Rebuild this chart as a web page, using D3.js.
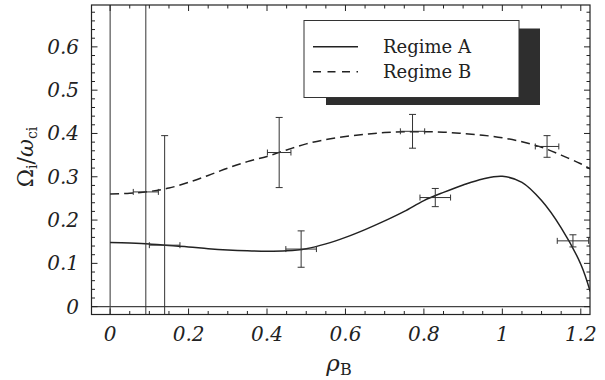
<!DOCTYPE html>
<html><head><meta charset="utf-8">
<script src="https://cdn.jsdelivr.net/npm/d3@7"></script>
<style>body{margin:0;background:#fff}svg{display:block}</style>
</head><body>
<svg id="c" width="605" height="380"></svg>
<script>
// ---- data ----
const rhoGrid = [0, 0.05, 0.1, 0.15, 0.2, 0.25, 0.3, 0.35, 0.4, 0.45, 0.5, 0.55, 0.6, 0.65, 0.7, 0.75, 0.8, 0.85, 0.9, 0.95, 1.0, 1.05, 1.1, 1.15, 1.2, 1.224];
const regimeA = [0.148, 0.147, 0.145, 0.141, 0.138, 0.134, 0.131, 0.129, 0.128, 0.129, 0.134, 0.145, 0.160, 0.178, 0.198, 0.220, 0.245, 0.264, 0.281, 0.295, 0.301, 0.287, 0.245, 0.182, 0.098, 0.035];
const regimeB = [0.260, 0.262, 0.266, 0.274, 0.287, 0.303, 0.320, 0.335, 0.347, 0.362, 0.376, 0.386, 0.393, 0.398, 0.402, 0.404, 0.404, 0.403, 0.400, 0.396, 0.390, 0.381, 0.368, 0.350, 0.330, 0.318];
const ptsAx = [0.139, 0.487, 0.829, 1.180];
const ptsAy = [0.142, 0.133, 0.252, 0.152];
const ptsAxErr = [0.039, 0.039, 0.039, 0.040];
const ptsAyErr = [0.253, 0.042, 0.021, 0.014];
const ptsBx = [0.091, 0.431, 0.771, 1.114];
const ptsBy = [0.265, 0.356, 0.405, 0.370];
const ptsBxErr = [0.032, 0.030, 0.031, 0.030];
const ptsByErr = [1.0, 0.081, 0.039, 0.025];
const xTicks = [0, 0.2, 0.4, 0.6, 0.8, 1, 1.2];
const xTickLabels = ["0", "0.2", "0.4", "0.6", "0.8", "1", "1.2"];
const yTicks = [0, 0.1, 0.2, 0.3, 0.4, 0.5, 0.6];
const yTickLabels = ["0", "0.1", "0.2", "0.3", "0.4", "0.5", "0.6"];
const legendLabels = ["Regime A", "Regime B"];

// ---- layout ----
const L = 91.5, R = 590, T = 5, B = 314.5;
const x = d3.scaleLinear().domain([-0.0475, 1.2235]).range([L, R]);
const y = d3.scaleLinear().domain([-0.0181, 0.6967]).range([B, T]);
const svg = d3.select("#c");
const ink = "#222";
const serif = "DejaVu Serif";

svg.append("defs").append("clipPath").attr("id", "clip")
  .append("rect").attr("x", L).attr("y", T).attr("width", R - L).attr("height", B - T);
const plot = svg.append("g").attr("clip-path", "url(#clip)");

plot.append("line").attr("x1", x(0)).attr("x2", x(0)).attr("y1", T).attr("y2", B)
  .attr("stroke", "#444").attr("stroke-width", 1.1);
plot.append("line").attr("x1", L).attr("x2", R).attr("y1", y(0)).attr("y2", y(0))
  .attr("stroke", "#444").attr("stroke-width", 1.1);

const line = d3.line().x(d => x(d[0])).y(d => y(d[1])).curve(d3.curveCatmullRom.alpha(0.5));
plot.append("path").datum(rhoGrid.map((r, i) => [r, regimeA[i]]))
  .attr("d", line).attr("fill", "none").attr("stroke", ink).attr("stroke-width", 1.5);
plot.append("path").datum(rhoGrid.map((r, i) => [r, regimeB[i]]))
  .attr("d", line).attr("fill", "none").attr("stroke", ink).attr("stroke-width", 1.5)
  .attr("stroke-dasharray", "9,5");

function errbars(xs, ys, xe, ye) {
  const g = plot.append("g").attr("stroke", "#333").attr("stroke-width", 1).attr("fill", "none");
  xs.forEach((xv, i) => {
    const cx = x(xv), cy = y(ys[i]);
    const y1 = y(ys[i] + ye[i]), y2 = y(ys[i] - ye[i]);
    const x1 = x(xv - xe[i]), x2 = x(xv + xe[i]);
    g.append("line").attr("x1", cx).attr("x2", cx).attr("y1", y1).attr("y2", y2);
    g.append("line").attr("x1", cx - 3.5).attr("x2", cx + 3.5).attr("y1", y1).attr("y2", y1);
    g.append("line").attr("x1", cx - 3.5).attr("x2", cx + 3.5).attr("y1", y2).attr("y2", y2);
    g.append("line").attr("x1", x1).attr("x2", x2).attr("y1", cy).attr("y2", cy);
    g.append("line").attr("x1", x1).attr("x2", x1).attr("y1", cy - 3).attr("y2", cy + 3);
    g.append("line").attr("x1", x2).attr("x2", x2).attr("y1", cy - 3).attr("y2", cy + 3);
  });
}
errbars(ptsAx, ptsAy, ptsAxErr, ptsAyErr);
errbars(ptsBx, ptsBy, ptsBxErr, ptsByErr);

const xMinor = d3.range(-0.05, 1.2251, 0.05).filter(v => v >= -0.0475 && v <= 1.2235);
const yMinor = d3.range(0, 0.7, 0.02).filter(v => v <= 0.6967);
const fr = svg.append("g").attr("stroke", ink).attr("stroke-width", 1);
const isMajor = (v, step) => Math.abs(v / step - Math.round(v / step)) < 1e-6;
xMinor.forEach(v => {
  const len = isMajor(v, 0.2) ? 6 : 3.5;
  fr.append("line").attr("x1", x(v)).attr("x2", x(v)).attr("y1", B).attr("y2", B - len);
  fr.append("line").attr("x1", x(v)).attr("x2", x(v)).attr("y1", T).attr("y2", T + len);
});
yMinor.forEach(v => {
  const len = isMajor(v, 0.1) ? 6 : 3.5;
  fr.append("line").attr("x1", L).attr("x2", L + len).attr("y1", y(v)).attr("y2", y(v));
  fr.append("line").attr("x1", R).attr("x2", R - len).attr("y1", y(v)).attr("y2", y(v));
});
svg.append("rect").attr("x", L).attr("y", T).attr("width", R - L).attr("height", B - T)
  .attr("fill", "none").attr("stroke", ink).attr("stroke-width", 1.2);

svg.append("g").selectAll("text").data(xTicks).join("text")
  .attr("x", d => x(d)).attr("y", 341).attr("text-anchor", "middle").style("font-family", serif)
  .attr("font-style", "italic").attr("font-size", 20).attr("fill", ink)
  .text((d, i) => xTickLabels[i]);
svg.append("g").selectAll("text").data(yTicks).join("text")
  .attr("x", 79).attr("y", d => y(d) + 7).attr("text-anchor", "end").style("font-family", serif)
  .attr("font-style", "italic").attr("font-size", 20).attr("fill", ink)
  .text((d, i) => yTickLabels[i]);

const xl = svg.append("text").attr("x", 339).attr("y", 371).attr("text-anchor", "middle")
  .style("font-family", serif).attr("fill", ink);
xl.append("tspan").attr("font-style", "italic").attr("font-size", 23).text("ρ");
xl.append("tspan").attr("font-size", 16).attr("dy", 4).text("B");

const yl = svg.append("text").attr("transform", "translate(33,157) rotate(-90)")
  .attr("text-anchor", "middle").style("font-family", serif).attr("fill", ink);
yl.append("tspan").attr("font-size", 22).text("Ω");
yl.append("tspan").attr("font-size", 14).attr("dy", 4).text("i");
yl.append("tspan").attr("font-size", 22).attr("dy", -4).text("/");
yl.append("tspan").attr("font-size", 22).attr("font-style", "italic").text("ω");
yl.append("tspan").attr("font-size", 14).attr("dy", 4).text("ci");

const lg = svg.append("g");
lg.append("rect").attr("x", 326).attr("y", 28.5).attr("width", 214).attr("height", 76.5).attr("fill", "#2e2e2e");
lg.append("rect").attr("x", 304).attr("y", 20.5).attr("width", 215).attr("height", 77)
  .attr("fill", "#fff").attr("stroke", "#333").attr("stroke-width", 1);
legendLabels.forEach((lab, i) => {
  const ly = 46.7 + i * 25;
  lg.append("line").attr("x1", 313).attr("x2", 358).attr("y1", ly).attr("y2", ly)
    .attr("stroke", ink).attr("stroke-width", 1.5).attr("stroke-dasharray", i ? "8,6.5" : null);
  lg.append("text").attr("x", 383).attr("y", ly + 6.5).style("font-family", serif)
    .attr("font-size", 18).attr("fill", ink).text(lab);
});
</script>
</body></html>
